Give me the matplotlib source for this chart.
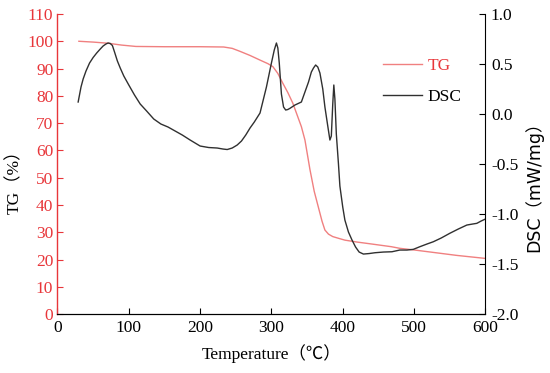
import matplotlib.pyplot as plt
import numpy as np

# TG curve (temperature in C, mass %)
tg_temp = [30, 50, 70, 90, 110, 150, 200, 233, 245, 256, 270, 284, 295, 302, 309, 316,
           323, 330, 336, 342, 347, 354, 360, 366, 371, 375, 380, 386, 395, 403, 420,
           440, 468, 480, 500, 530, 560, 600]
tg_mass = [100, 99.7, 99.3, 98.6, 98.1, 98.0, 98.0, 97.9, 97.4, 96.3, 94.8, 93.1, 91.8,
           90.7, 88.2, 84.6, 81.2, 77.3, 73.0, 68.7, 63.8, 53.0, 45.0, 39.0, 34.0, 30.8,
           29.3, 28.4, 27.7, 27.1, 26.4, 25.7, 24.7, 24.1, 23.5, 22.5, 21.5, 20.4]

# DSC curve (temperature in C, mW/mg)
dsc_temp = [29, 33, 36, 40, 45, 50, 55, 60, 64, 68, 71, 74, 77, 80, 84, 88, 93, 100,
            108, 116, 125, 135, 145, 155, 165, 175, 186, 200, 212, 224, 232, 238, 245,
            252, 258, 264, 270, 276, 284, 293, 300, 304, 307, 309, 311, 314, 317, 320,
            323, 326, 333, 342, 347, 352, 356, 359, 362, 365, 368, 372, 375, 379, 382,
            384, 386, 387.5, 389, 391, 394, 396, 400, 403, 408, 413, 418, 423, 429, 437,
            445, 457, 469, 480, 490, 499, 508, 518, 527, 538, 550, 562, 574, 582, 588,
            594, 600]
dsc_val = [0.12, 0.27, 0.35, 0.43, 0.51, 0.565, 0.61, 0.65, 0.68, 0.70, 0.71, 0.705,
           0.685, 0.62, 0.53, 0.46, 0.38, 0.29, 0.19, 0.10, 0.03, -0.05, -0.10, -0.13,
           -0.17, -0.21, -0.26, -0.32, -0.335, -0.34, -0.35, -0.355, -0.34, -0.31, -0.27,
           -0.21, -0.14, -0.08, 0.01, 0.27, 0.51, 0.64, 0.71, 0.66, 0.51, 0.20, 0.07,
           0.04, 0.045, 0.057, 0.09, 0.12, 0.22, 0.32, 0.42, 0.46, 0.49, 0.47, 0.41,
           0.25, 0.07, -0.12, -0.26, -0.22, 0.10, 0.29, 0.15, -0.20, -0.50, -0.72,
           -0.93, -1.06, -1.18, -1.26, -1.33, -1.38, -1.40, -1.395, -1.387, -1.38,
           -1.377, -1.36, -1.36, -1.353, -1.327, -1.30, -1.277, -1.24, -1.193, -1.15,
           -1.11, -1.10, -1.093, -1.07, -1.05]

red = "#e8363a"
serif = ["Liberation Serif", "Noto Sans CJK SC"]
plt.rcParams["font.family"] = serif
fs = 12.5

fig = plt.figure(figsize=(5.5, 3.73), dpi=100)
ax = fig.add_axes([0.1045, 0.158, 0.778, 0.8045])
ax2 = ax.twinx()

l1, = ax.plot(tg_temp, tg_mass, color="#f08080", lw=1.0, label="TG")
l2, = ax2.plot(dsc_temp, dsc_val, color="#303030", lw=1.0, label="DSC")

ax.set_xlim(0, 600)
ax.set_ylim(0, 110)
ax2.set_ylim(-2.0, 1.0)
ax.set_xticks(np.arange(0, 601, 100))
ax.set_yticks(np.arange(0, 111, 10))
dsc_ticks = np.arange(-2.0, 1.01, 0.5)
ax2.set_yticks(dsc_ticks)
ax2.set_yticklabels([f"{v:.1f}" for v in dsc_ticks])

for a in (ax, ax2):
    a.spines["top"].set_visible(False)
ax.spines["left"].set_color(red)
ax.spines["left"].set_linewidth(1.0)
ax2.spines["left"].set_visible(False)
ax.spines["right"].set_visible(False)

ax.tick_params(axis="x", direction="in", labelsize=fs, length=4, pad=4)
ax.tick_params(axis="y", direction="in", colors=red, labelsize=fs, length=4, pad=3)
ax2.tick_params(axis="y", direction="in", labelsize=fs, length=4, pad=4)

ax.set_xlabel("Temperature（℃）", fontsize=fs, labelpad=6)
# axis titles placed where the reference has them
fig.text(15 / 550, 1 - 178 / 373, "TG（%）", fontsize=fs, rotation=90,
         ha="center", va="center")
fig.text(534 / 550, 1 - 182 / 373, "DSC（mW/mg）", fontsize=12.5, rotation=90,
         ha="center", va="center", family=["DejaVu Sans", "Noto Sans CJK SC"])

leg = ax.legend([l1, l2], ["TG", "DSC"], loc="upper left", bbox_to_anchor=(0.76, 0.855),
                frameon=False, fontsize=fs, handlelength=2.25, handletextpad=0.35,
                labelspacing=0.9, borderpad=0, borderaxespad=0)
leg.get_texts()[0].set_color(red)

fig.savefig("out.png", dpi=100)
